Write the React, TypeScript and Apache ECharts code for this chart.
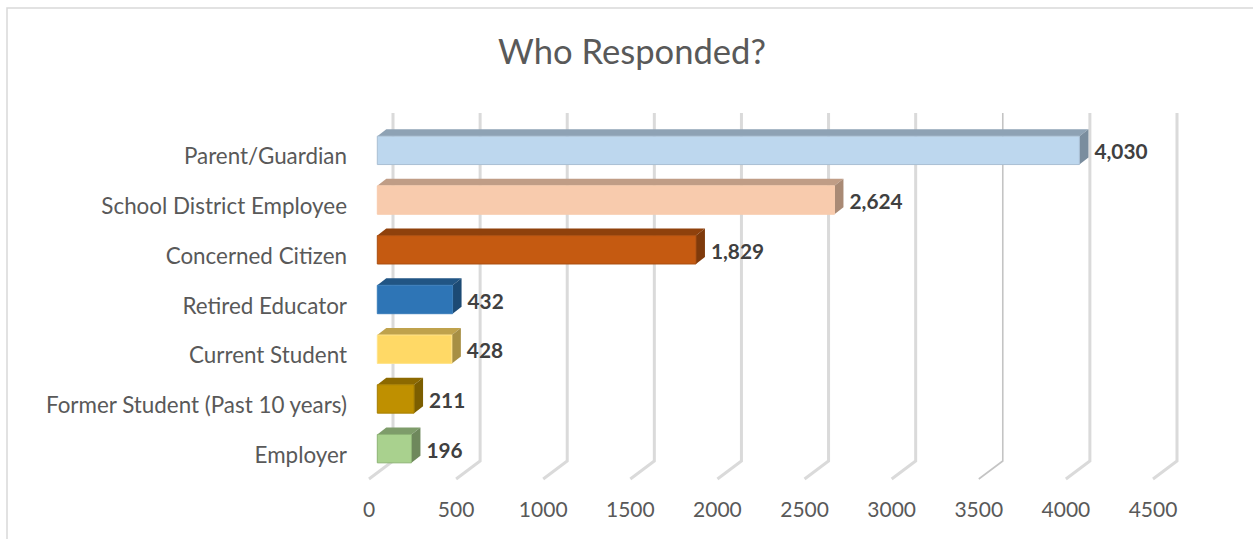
import React, { useEffect, useRef } from "react";
import * as echarts from "echarts";

const categories = [
  "Parent/Guardian",
  "School District Employee",
  "Concerned Citizen",
  "Retired Educator",
  "Current Student",
  "Former Student (Past 10 years)",
  "Employer",
];
const values = [4030, 2624, 1829, 432, 428, 211, 196];
const valueLabels = ["4,030", "2,624", "1,829", "432", "428", "211", "196"];
const frontColors = ["#BDD7EE", "#F8CBAD", "#C55A11", "#2E75B6", "#FFD966", "#BF9000", "#A9D18E"];
const topColors = ["#8EA2B4", "#C09D86", "#8F410C", "#215584", "#BFA24C", "#8C6900", "#7E9C6A"];
const sideColors = ["#7A8D9E", "#A98A75", "#7F3A0B", "#1C4A74", "#A78F44", "#7C5E00", "#6E885C"];
const edgeColors = ["#A9BFD3", "#F8CBAD", "#A94E10", "#3B7DB9", "#FFE38A", "#A67E00", "#8DB374"];
const gridTicks = [0, 500, 1000, 1500, 2000, 2500, 3000, 3500, 4000, 4500];

const FONT = "Lato, 'Open Sans', sans-serif";

export default function App() {
  const ref = useRef<HTMLDivElement>(null);
  useEffect(() => {
    document.body.style.margin = "0";
    const chart = echarts.init(ref.current!, null, { renderer: "svg" });
    const left = 369;
    const depthX = 24;
    const depthY = 18;
    chart.setOption({
      animation: false,
      backgroundColor: "#ffffff",
      title: {
        text: "Who Responded?",
        left: 627,
        top: 28,
        textAlign: "center",
        textStyle: { fontFamily: FONT, fontSize: 34.6, fontWeight: "normal", color: "#595959" },
      },
      graphic: [
        {
          type: "polyline",
          silent: true,
          shape: { points: [[7, 539], [7, 8], [1253, 8]] },
          style: { stroke: "#d9d9d9", lineWidth: 1.5, fill: "none" },
        },
      ],
      grid: { left, top: 131, width: 784, height: 348 },
      xAxis: {
        type: "value",
        min: 0,
        max: 4500,
        interval: 500,
        axisLine: { show: false },
        axisTick: { show: false },
        splitLine: { show: false },
        axisLabel: {
          color: "#595959",
          fontFamily: FONT,
          fontSize: 21,
          margin: 19,
          formatter: (v: number) => String(v),
        },
      },
      yAxis: {
        type: "category",
        inverse: true,
        data: categories,
        axisLine: { show: false },
        axisTick: { show: false },
        axisLabel: { color: "#595959", fontFamily: FONT, fontSize: 22.4, margin: 22 },
      },
      series: [
        {
          type: "custom",
          z: 1,
          clip: false,
          silent: true,
          data: gridTicks.map((t) => [t, 0]),
          encode: { x: 0 },
          renderItem: (params: any, api: any) => {
            const v = api.value(0);
            const x = api.coord([v, 0])[0];
            const cs = params.coordSys;
            const bottom = cs.y + cs.height;
            const top = cs.y - depthY;
            const thin = v === 3500;
            return {
              type: "polyline",
              shape: { points: [[x, bottom], [x + depthX, bottom - depthY], [x + depthX, top]] },
              style: { stroke: thin ? "#c4c4c4" : "#dadada", lineWidth: thin ? 1.6 : 3, fill: "none" },
            };
          },
        },
        {
          type: "custom",
          z: 2,
          clip: false,
          silent: true,
          data: values.map((v, i) => [v, i]),
          encode: { x: 0, y: 1 },
          renderItem: (params: any, api: any) => {
            const i = params.dataIndex;
            const zero = api.coord([0, api.value(1)]);
            const end = api.coord([api.value(0), api.value(1)]);
            const dx = 8.3;
            const cy = zero[1] - 5.5;
            const h = 14.2;
            const bx = 9;
            const by = 7;
            const x0 = zero[0] + dx;
            const x1 = end[0] + dx;
            return {
              type: "group",
              children: [
                {
                  type: "polygon",
                  shape: { points: [[x0, cy - h], [x1, cy - h], [x1 + bx, cy - h - by], [x0 + bx, cy - h - by]] },
                  style: { fill: topColors[i] },
                },
                {
                  type: "polygon",
                  shape: { points: [[x1, cy - h], [x1 + bx, cy - h - by], [x1 + bx, cy + h - by], [x1, cy + h]] },
                  style: { fill: sideColors[i] },
                },
                {
                  type: "rect",
                  shape: { x: x0, y: cy - h, width: x1 - x0, height: 2 * h },
                  style: { fill: frontColors[i], stroke: edgeColors[i], lineWidth: 1 },
                },
                {
                  type: "text",
                  style: {
                    x: x1 + 15,
                    y: cy + 0.5,
                    text: valueLabels[i],
                    fill: "#404040",
                    font: `bold 20.8px ${FONT}`,
                    textAlign: "left",
                    textVerticalAlign: "middle",
                  },
                },
              ],
            };
          },
        },
      ],
    });
    return () => chart.dispose();
  }, []);
  return <div ref={ref} style={{ width: 1253, height: 539 }} />;
}
